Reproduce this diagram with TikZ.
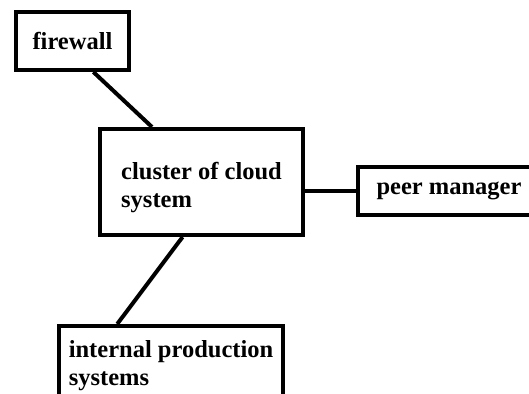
\documentclass[tikz,border=0pt]{standalone}
\usepackage{fontspec}
\setmainfont{Liberation Serif}
\usepackage{tikz}

\begin{document}
\begin{tikzpicture}[x=1pt,y=-1pt,line width=4pt,
	font=\bfseries\fontsize{24.5}{28}\selectfont]
	\tikzstyle{every node}=[draw,rectangle,inner sep=0pt,align=left]
	\useasboundingbox (0,0) rectangle (529,393);
	
	\node[minimum width=113pt,minimum height=58pt] (fw) at (72.5,41) {firewall};
	\node[minimum width=203pt,minimum height=106pt] (cl) at (201.5,182) {\rule{0pt}{29pt}cluster of cloud\\system};
	\node[minimum width=182pt,minimum height=48pt] (pm) at (449,191) {peer manager};
	\node[minimum width=224pt,minimum height=80pt] (ip) at (171,366) {internal production\\systems};
	
	\path (fw.-56) edge (cl.132)
	(cl.-109.5) edge (ip.142)
	(pm.west) edge (pm.west -| cl.east);
	
\end{tikzpicture}
\end{document}
